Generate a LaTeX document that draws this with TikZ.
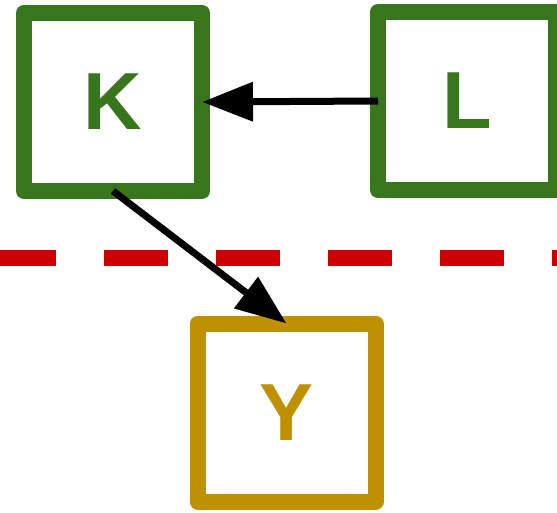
\documentclass[tikz,border=0pt]{standalone}
\usepackage{fontspec}
\setmainfont{Liberation Sans}
\usepackage{tikz}
\usetikzlibrary{arrows.meta, positioning}
\usetikzlibrary{calc}
\usepackage{xcolor}
\definecolor{dkgreen}{HTML}{38761D}
\definecolor{dkgold}{HTML}{BF9000}
\definecolor{dkred}{HTML}{CC0000}

\begin{document}
\begin{tikzpicture}[
		var/.style={draw, line width=16pt, line join=round, minimum size=178pt, inner sep=0pt, outer sep=0pt, font=\fontsize{81}{81}\selectfont\bfseries},
		cause/.style={line width=7pt, -{Triangle[length=51pt, width=38pt]}}
	]
		\clip (0,0) rectangle (557pt,-513pt);
		\draw (113pt,-102pt) node[var, dkgreen] (k) {K}
		(467pt,-101pt) node[var, dkgreen] (l) {L}
		(286.5pt,-412.5pt) node[var, dkgold] (y) {Y};
		
		\draw[dkred, line width=16pt, dash pattern=on 64pt off 48pt, dash phase=8pt] (0,-258pt) -- (557pt,-258pt);
		
		\draw[cause] (l.west) -- (k.east);
		\draw[cause] (k.south) -- (y.north);
	\end{tikzpicture}
\end{document}
